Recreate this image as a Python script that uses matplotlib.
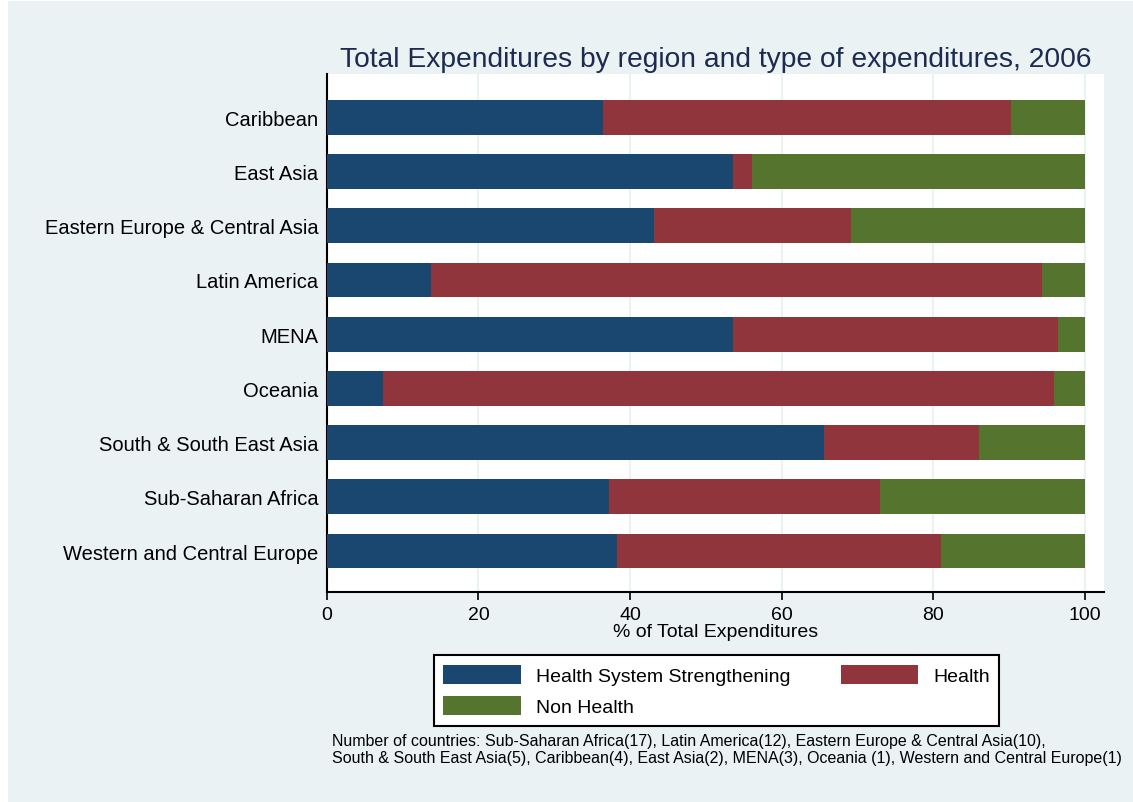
import numpy as np
import matplotlib.pyplot as plt
from matplotlib.patches import Rectangle

plt.rcParams['font.family'] = ['Liberation Sans', 'DejaVu Sans']

regiones = ['Caribbean', 'East Asia', 'Eastern Europe & Central Asia', 'Latin America',
            'MENA', 'Oceania', 'South & South East Asia', 'Sub-Saharan Africa',
            'Western and Central Europe']
hss = [36.4, 53.6, 43.1, 13.8, 53.6, 7.4, 65.6, 37.2, 38.3]
health = [53.9, 2.5, 26.1, 80.5, 42.9, 88.5, 20.4, 35.7, 42.7]
non_health = [9.7, 43.9, 30.8, 5.7, 3.5, 4.1, 14.0, 27.1, 19.0]

series = ['Health System Strengthening', 'Health', 'Non Health']
colores = ['#1a476f', '#90353b', '#55752f']
fondo = '#eaf2f3'

fig = plt.figure(figsize=(11.33, 8.03), dpi=100, facecolor='white')
fig.patches.append(Rectangle((8 / 1133, 0), 1, 1 - 2 / 803, transform=fig.transFigure,
                             facecolor=fondo, edgecolor='none', zorder=-10))

ax = fig.add_axes([0.2884, 0.2619, 0.6860, 0.6447])
ax.set_facecolor('white')

y = np.arange(len(regiones))
izq = np.zeros(len(regiones))
barras = []
for valores, nombre, color in zip([hss, health, non_health], series, colores):
    b = ax.barh(y, valores, left=izq, height=0.64, color=color, label=nombre, zorder=3)
    barras.append(b)
    izq = izq + np.array(valores)

ax.set_ylim(len(regiones) - 1 + 0.75, -0.80)
ax.set_xlim(0, 102.5)
ax.set_yticks(y)
ax.set_yticklabels(regiones, fontsize=14.5)
ax.tick_params(axis='y', length=0, pad=6)
ax.set_xticks([0, 20, 40, 60, 80, 100])
ax.tick_params(axis='x', labelsize=14, length=6, width=1.2, direction='out', pad=4)
ax.grid(axis='x', color=fondo, linewidth=1.5, zorder=0)

for lado in ['top', 'right']:
    ax.spines[lado].set_visible(False)
for lado in ['left', 'bottom']:
    ax.spines[lado].set_linewidth(1.5)

ax.set_xlabel('% of Total Expenditures', fontsize=14, labelpad=0)
ax.set_title('Total Expenditures by region and type of expenditures, 2006',
             fontsize=20.3, color='#1c2b4f', pad=6)

# orden por filas: HSS, Health / Non Health
handles = [barras[0], barras[2], barras[1]]
labels = [series[0], series[2], series[1]]
leg = ax.legend(handles, labels, loc='upper center',
                bbox_to_anchor=(716.5 / 1133, 1 - 656 / 803),
                bbox_transform=fig.transFigure, ncol=2, fontsize=14, frameon=True,
                fancybox=False, framealpha=1, handlelength=4.0, handleheight=1.17,
                handletextpad=0.75, columnspacing=2.6, labelspacing=0.55,
                borderaxespad=0, borderpad=0.5)
leg.get_frame().set_edgecolor('black')
leg.get_frame().set_linewidth(1.5)

fig.text(332 / 1133, 1 - 742 / 803,
         'Number of countries: Sub-Saharan Africa(17), Latin America(12), Eastern Europe & Central Asia(10),',
         fontsize=11.5, va='center')
fig.text(332 / 1133, 1 - 758.5 / 803,
         'South & South East Asia(5), Caribbean(4), East Asia(2), MENA(3), Oceania (1), Western and Central Europe(1)',
         fontsize=11.5, va='center')

fig.savefig('out.png', dpi=100, facecolor=fig.get_facecolor())
